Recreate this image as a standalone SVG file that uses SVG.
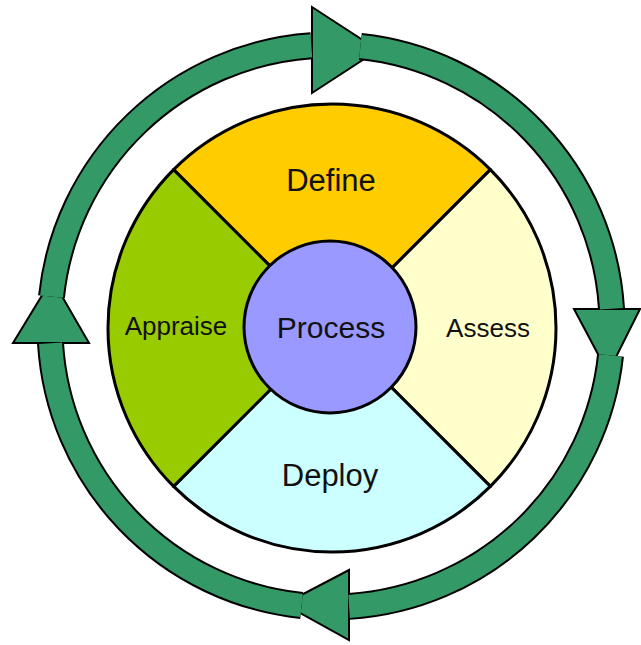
<svg xmlns="http://www.w3.org/2000/svg" width="641" height="645" viewBox="0 0 641 645">
<style>
.ro{fill:none;stroke:#000;stroke-width:27}
.ri{fill:none;stroke:#339966;stroke-width:23}
.arw{fill:#339966;stroke:#000;stroke-width:2;stroke-linejoin:miter}
.sec{stroke:#000;stroke-width:3;stroke-linejoin:round}
.lbl{font-family:"Liberation Sans",Arial,sans-serif;fill:#111;text-anchor:middle}
</style>
<rect width="641" height="645" fill="#fff"/>
<g id="cycle">
<polygon class="arw" points="312,7 312,93 378,50"/>
<polygon class="arw" points="574,309 640,309 608,373"/>
<polygon class="arw" points="349,570 349,640 284,604"/>
<polygon class="arw" points="13,343 89,343 52,279"/>
<path class="ro" d="M360.4,46.5 A281 281 0 0 1 611.5,308.8"/>
<path class="ri" d="M360.4,46.5 A281 281 0 0 1 611.5,308.8"/>
<path class="ro" d="M610.5,355.4 A281 281 0 0 1 349.1,606.4"/>
<path class="ri" d="M610.5,355.4 A281 281 0 0 1 349.1,606.4"/>
<path class="ro" d="M301.6,605.5 A281 281 0 0 1 50.5,343.2"/>
<path class="ri" d="M301.6,605.5 A281 281 0 0 1 50.5,343.2"/>
<path class="ro" d="M51.5,296.6 A281 281 0 0 1 311.4,45.7"/>
<path class="ri" d="M51.5,296.6 A281 281 0 0 1 311.4,45.7"/>
</g>
<g id="define">
<path class="sec" fill="#FFCC00" d="M332,328 L173.6,169.6 A224 224 0 0 1 490.4,169.6 Z"/>
<text class="lbl" x="331" y="191" font-size="31">Define</text>
</g>
<g id="assess">
<path class="sec" fill="#FFFFCC" d="M332,328 L490.4,169.6 A224 224 0 0 1 490.4,486.4 Z"/>
<text class="lbl" x="488" y="337" font-size="26">Assess</text>
</g>
<g id="deploy">
<path class="sec" fill="#CCFFFF" d="M332,328 L490.4,486.4 A224 224 0 0 1 173.6,486.4 Z"/>
<text class="lbl" x="330" y="486" font-size="31">Deploy</text>
</g>
<g id="appraise">
<path class="sec" fill="#99CC00" d="M332,328 L173.6,486.4 A224 224 0 0 1 173.6,169.6 Z"/>
<text class="lbl" x="176" y="335" font-size="26">Appraise</text>
</g>
<g id="process">
<circle cx="330" cy="327" r="86" fill="#9999FF" stroke="#000" stroke-width="3"/>
<text class="lbl" x="331" y="338" font-size="30">Process</text>
</g>
</svg>
